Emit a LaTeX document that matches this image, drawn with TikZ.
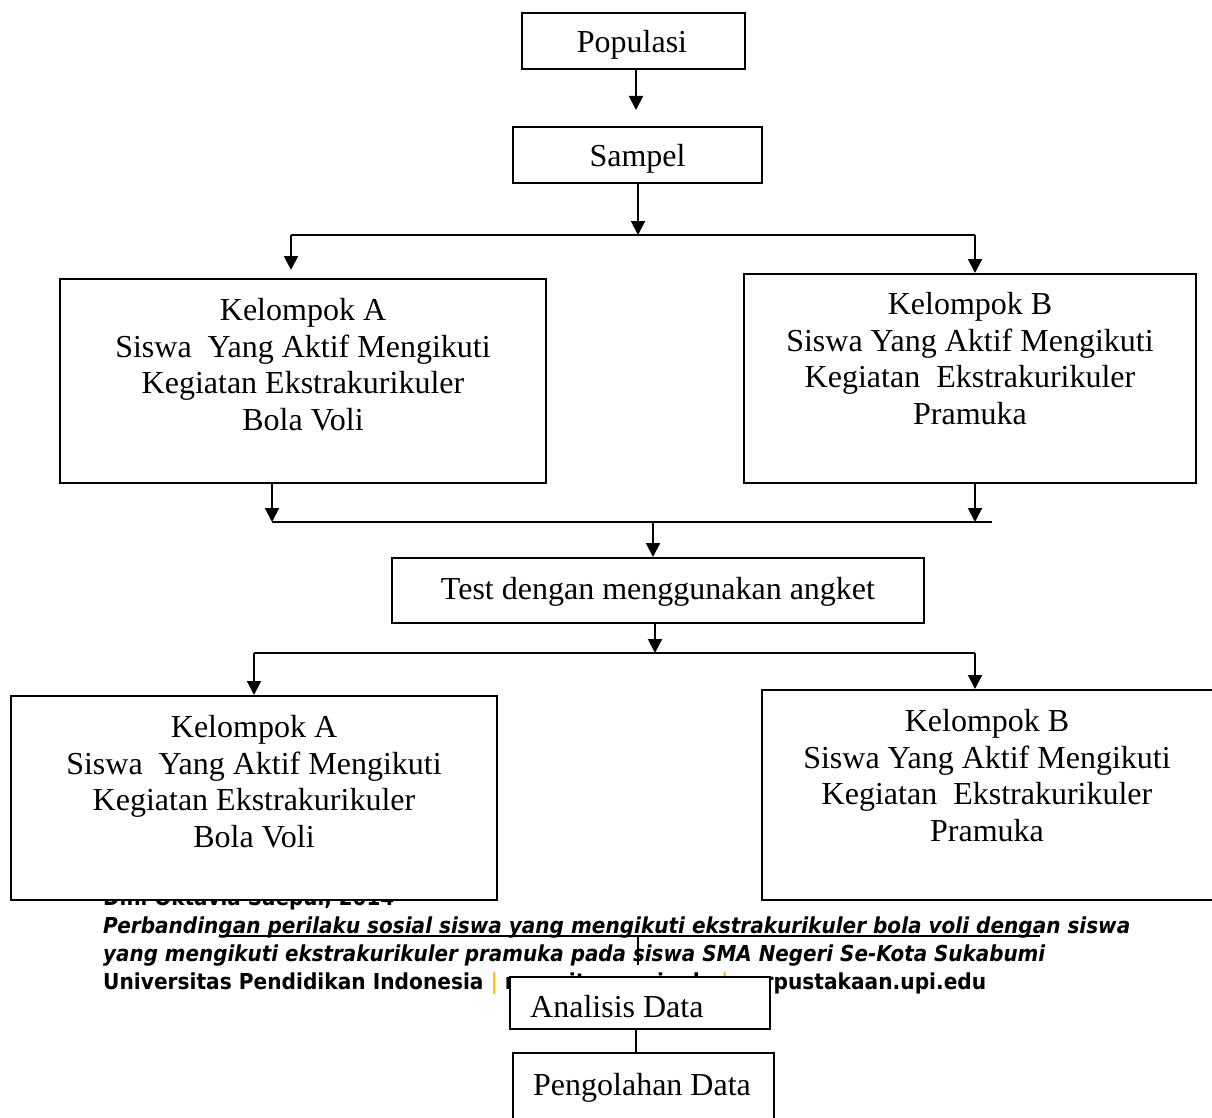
\documentclass[tikz,border=0pt]{standalone}
\usepackage{fontspec}
\setmainfont{Liberation Serif}
\newfontfamily\footfont{DejaVu Sans}
\usetikzlibrary{arrows.meta}
\definecolor{footyellow}{RGB}{255,192,0}
\begin{document}
\begin{tikzpicture}[x=1pt,y=-1pt,
  box/.style={draw, line width=2pt, fill=white, inner sep=0pt, rectangle},
  txt/.style={inner sep=0pt, font=\fontsize{32}{36.7}\selectfont, align=center},
  link/.style={line width=2pt},
  arr/.style={line width=2pt, -{Triangle[length=14pt,width=14pt]}},
  thinlink/.style={line width=1.3pt},
  foot/.style={inner sep=0pt, anchor=base west, font=\footfont\fontsize{22}{26}\selectfont\bfseries}
]
\useasboundingbox (0,0) rectangle (1212,1118);
\clip (0,0) rectangle (1212,1118);
\fill[white] (0,0) rectangle (1212,1118);

% footer text (partly hidden by the boxes)
\node[foot] (f1) at (103,905) {\resizebox{291pt}{\height}{Dini Oktavia Saepul, 2014}};
\node[foot] (f2) at (103,933) {\resizebox{1027pt}{\height}{\itshape Perbandingan perilaku sosial siswa yang mengikuti ekstrakurikuler bola voli dengan siswa}};
\node[foot] (f3) at (103,961) {\resizebox{942pt}{\height}{\itshape yang mengikuti ekstrakurikuler pramuka pada siswa SMA Negeri Se-Kota Sukabumi}};
\node[foot] (f4) at (103,989) {\resizebox{883pt}{\height}{Universitas Pendidikan Indonesia {\color{footyellow}|} repository.upi.edu {\color{footyellow}|} perpustakaan.upi.edu}};

% boxes
\node[box, minimum width=223pt, minimum height=56pt] (pop) at (633.5,41) {};
\node[box, minimum width=249pt, minimum height=56pt] (samp) at (637.5,155) {};
\node[box, minimum width=486pt, minimum height=204pt] (A1) at (303,381) {};
\node[box, minimum width=452pt, minimum height=209pt] (B1) at (970,378.5) {};
\node[box, minimum width=532pt, minimum height=65pt] (test) at (658,590.5) {};
\node[box, minimum width=486pt, minimum height=204pt] (A2) at (254,798) {};
\node[box, minimum width=452pt, minimum height=210pt] (B2) at (988,795) {};
\node[box, minimum width=260pt, minimum height=52pt] (ana) at (640,1003) {};
\node[box, minimum width=261pt, minimum height=87pt] (peng) at (643.5,1096.5) {};

% texts
\node[txt, anchor=base] (tpop) at (632,53) {Populasi};
\node[txt, anchor=base] (tsamp) at (637.5,167) {Sampel};
\node[txt, anchor=north] (tA1) at (303,298) {Kelompok A\\Siswa~~Yang Aktif Mengikuti\\Kegiatan Ekstrakurikuler\\Bola Voli};
\node[txt, anchor=north] (tB1) at (970,292) {Kelompok B\\Siswa Yang Aktif Mengikuti\\Kegiatan~~Ekstrakurikuler\\Pramuka};
\node[txt, anchor=base] (ttest) at (658,599) {Test dengan menggunakan angket};
\node[txt, anchor=north] (tA2) at (254,715) {Kelompok A\\Siswa~~Yang Aktif Mengikuti\\Kegiatan Ekstrakurikuler\\Bola Voli};
\node[txt, anchor=north] (tB2) at (987,709) {Kelompok B\\Siswa Yang Aktif Mengikuti\\Kegiatan~~Ekstrakurikuler\\Pramuka};
\node[txt, anchor=base west] (tana) at (530,1017) {Analisis Data};
\node[txt, anchor=base] (tpeng) at (642,1095) {Pengolahan Data};

% connectors
\coordinate (c1) at (636,110);
\draw[arr] (pop.south -| c1) -- (c1);
\coordinate (c2) at (638,235);
\draw[arr] (samp.south -| c2) -- (c2);
\coordinate (hL1) at (291,235);
\coordinate (hR1) at (975,235);
\draw[link] (hL1) -- (hR1);
\draw[arr] (hL1) -- ([yshift=8pt]A1.north -| hL1);
\draw[arr] (hR1) -- (B1.north -| hR1);

\coordinate (jL) at (272,522);
\coordinate (jB) at (975,522);
\coordinate (jR) at (992,522);
\draw[arr] (A1.south -| jL) -- (jL);
\draw[arr] (B1.south -| jB) -- (jB);
\draw[link] (jL) -- (jR);
\coordinate (jM) at (653,522);
\draw[arr] (jM) -- (test.north -| jM);

\coordinate (kM) at (655,653);
\draw[arr] (test.south -| kM) -- (kM);
\coordinate (kL) at (254,653);
\coordinate (kR) at (975,653);
\draw[link] (kL) -- (kR);
\draw[arr] (kL) -- (A2.north -| kL);
\draw[arr] (kR) -- (B2.north -| kR);

\coordinate (uL) at (220,936);
\coordinate (uR) at (1040,936);
\draw[link] (uL) -- (uR);
\coordinate (vT) at (638,936);
\coordinate (vB) at (638,965);
\draw[thinlink] (vT) -- (vB);
\coordinate (aL) at (636,1000);
\draw[thinlink] (ana.south -| aL) -- (peng.north -| aL);
\end{tikzpicture}
\end{document}
